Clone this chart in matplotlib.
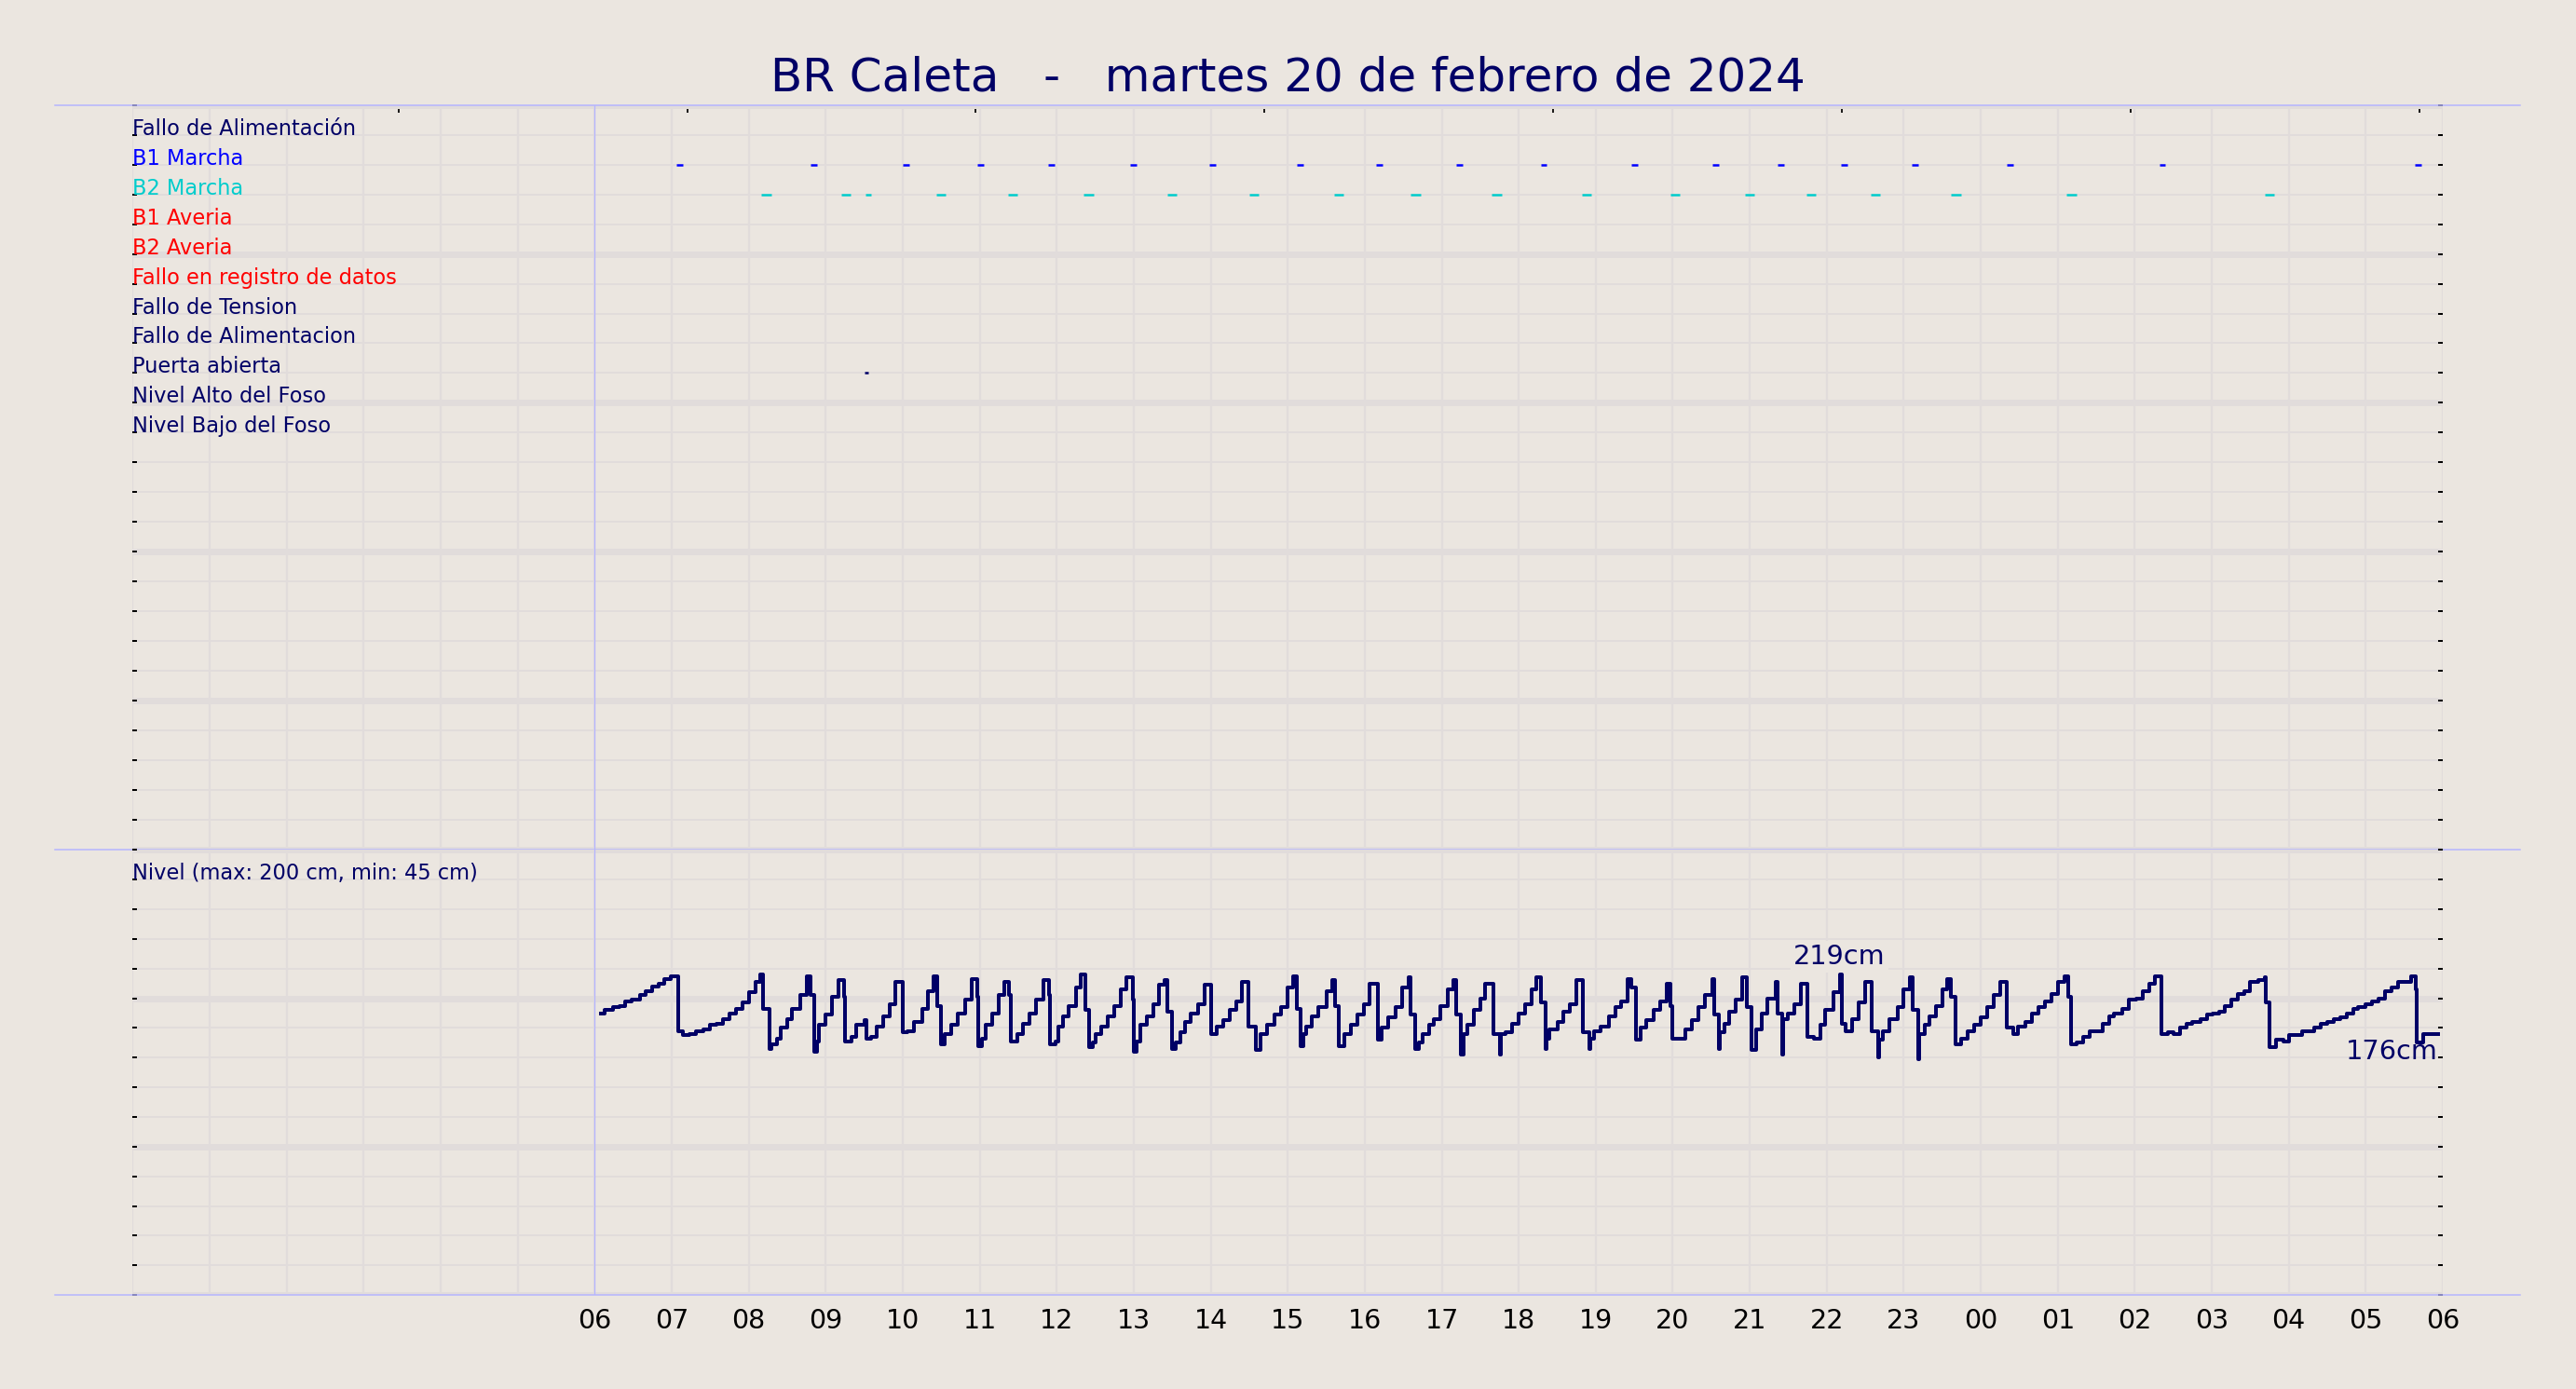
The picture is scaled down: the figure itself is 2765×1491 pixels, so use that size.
import matplotlib
matplotlib.use("Agg")
import matplotlib.pyplot as plt
from matplotlib.ticker import MultipleLocator, FixedLocator

# --- data ------------------------------------------------------------------

TITLE = "BR Caleta   -   martes 20 de febrero de 2024"

ROW_LABELS = ["Fallo de Alimentación", "B1 Marcha", "B2 Marcha", "B1 Averia",
              "B2 Averia", "Fallo en registro de datos", "Fallo de Tension",
              "Fallo de Alimentacion", "Puerta abierta", "Nivel Alto del Foso",
              "Nivel Bajo del Foso"]
ROW_COLORS = ["#000066", "#0000ff", "#00cccc", "#ff0000", "#ff0000", "#ff0000",
              "#000066", "#000066", "#000066", "#000066", "#000066"]

# pump runs / door events, minutes from 00:00 on the 20th
B1_START_MIN = [424, 528, 600, 658, 713, 777, 839, 907, 969, 1031, 1097, 1168,
                1231, 1282, 1331, 1386, 1460, 1579, 1778]
B1_DUR_MIN = [5] * 19
B2_START_MIN = [490, 552, 571, 626, 682, 741, 806, 870, 936, 996, 1059, 1129,
                1198, 1256, 1304, 1354, 1417, 1507, 1661]
B2_DUR_MIN = [7.5, 7.5, 4, 7.5, 7.5, 7.5, 7.5, 7.5, 7.5, 7.5, 7.5, 7.5,
              7.5, 7.5, 7.5, 7.5, 7.5, 7.5, 7.5]
DOOR_START_MIN = [570]
DOOR_DUR_MIN = [3]

# pit level, minutes after 06:00 and cm
LEVEL_MIN = [
    5, 8, 14, 19, 24, 29, 35, 40, 45, 50, 54, 59,
    65, 69, 74, 79, 85, 90, 95, 100, 105, 110, 115, 120, 125, 129, 131,
    136, 138, 142, 145, 150, 154, 160, 165, 168,
    171, 173, 175, 180, 185, 190, 194,
    195, 200, 204, 210, 212, 215, 220, 225, 230, 234,
    240, 244, 249, 255, 260, 264, 267,
    270, 273, 278, 283, 289, 294, 298,
    299, 302, 305, 310, 315, 319, 323,
    324, 329, 334, 339, 344, 350, 354,
    355, 359, 361, 365, 369, 375, 379, 382,
    385, 388, 390, 395, 400, 405, 410, 414, 419,
    420, 422, 425, 430, 435, 440, 444, 446,
    450, 453, 456, 460, 464, 470, 475,
    480, 485, 490, 495, 500, 504, 509,
    515, 519, 524, 530, 535, 540, 544, 547,
    550, 552, 554, 559, 564, 570, 575, 577,
    580, 584, 589, 594, 599, 604,
    610, 613, 618, 624, 629, 634, 636,
    639, 642, 645, 650, 654, 659, 665, 669, 671,
    675, 677, 680, 685, 690, 694, 700, 705, 706,
    710, 715, 720, 725, 730, 734, 737,
    741, 742, 744, 750, 755, 760, 765,
    770, 775, 776, 779, 784, 790, 795, 800, 805, 808,
    811, 815, 819, 825, 830, 835, 838,
    840, 850, 855, 860, 865, 871, 872,
    876, 877, 880, 884, 889, 894, 898,
    901, 905, 909, 914, 920, 922,
    925, 926, 930, 935, 940,
    945, 950, 955, 959, 965, 970, 972,
    975, 980, 985, 990, 995,
    1000, 1001, 1004, 1009, 1015, 1020, 1025, 1027,
    1031, 1032, 1036, 1040, 1045, 1050, 1054, 1057,
    1060, 1065, 1070, 1075, 1080, 1085, 1090, 1095,
    1100, 1105, 1109, 1115, 1120, 1125, 1130, 1135, 1140, 1145, 1148,
    1150, 1155, 1160, 1165, 1175, 1180, 1184, 1190, 1195, 1201, 1206, 1211, 1216,
    1221, 1226, 1230, 1235, 1240, 1245, 1251, 1256, 1261, 1266, 1270, 1275, 1280,
    1285, 1290, 1296, 1301, 1302,
    1305, 1310, 1316, 1320, 1330, 1340, 1345, 1350, 1355, 1360, 1365, 1370, 1374,
    1380, 1385, 1390, 1395, 1400, 1405, 1410, 1415, 1419,
    1420, 1425, 1436,
]
LEVEL_CM = [
    190, 192, 194, 195, 198, 199, 202, 205, 208, 210, 213, 215,
    178, 175, 176, 178, 179, 182, 183, 186, 190, 193, 197, 204, 211, 216, 193,
    166, 169, 173, 180, 186, 193, 202, 215, 202,
    164, 171, 182, 189, 201, 212, 201,
    171, 174, 182, 185, 173, 174, 181, 188, 196, 211,
    177, 178, 184, 193, 205, 215, 195,
    169, 176, 182, 190, 199, 213, 201,
    168, 173, 182, 190, 202, 211, 202,
    171, 176, 183, 190, 199, 212, 202,
    169, 171, 181, 188, 195, 207, 216, 192,
    167, 170, 176, 181, 188, 195, 206, 214, 199,
    164, 171, 182, 188, 196, 209, 212, 191,
    166, 170, 177, 184, 190, 196, 209,
    176, 181, 185, 192, 198, 211, 181,
    165, 176, 182, 189, 194, 207, 215, 193,
    168, 176, 181, 188, 194, 205, 212, 195,
    168, 176, 182, 189, 196, 210,
    172, 180, 187, 194, 207, 214, 189,
    166, 170, 176, 182, 186, 195, 206, 212, 189,
    162, 176, 182, 192, 200, 210, 176, 162, 176,
    177, 183, 190, 196, 206, 214, 197,
    166, 173, 179, 184, 191, 196, 212,
    177, 166, 173, 178, 181, 188, 194, 198, 213, 207,
    172, 180, 185, 192, 198, 210, 195,
    173, 179, 185, 194, 202, 213, 189,
    166, 177, 183, 191, 199, 214, 194,
    165, 179, 190, 200, 211, 190,
    162, 186, 190, 196, 210,
    174, 173, 182, 192, 204, 216, 183,
    178, 186, 197, 211, 178,
    160, 172, 178, 186, 194, 206, 214, 192,
    159, 176, 182, 188, 195, 206, 213, 201,
    169, 173, 178, 182, 187, 194, 202, 211,
    180, 176, 181, 184, 190, 194, 198, 203, 211, 215, 201,
    169, 170, 174, 178, 183, 188, 190, 193, 199, 200, 205, 210, 215,
    176, 177, 176, 180, 183, 184, 186, 189, 190, 191, 195, 199, 203,
    205, 211, 212, 214, 197,
    167, 172, 171, 175, 178, 180, 183, 184, 186, 187, 190, 193, 194,
    196, 198, 200, 205, 207, 211, 211, 215, 206,
    170, 176, 176,
]
assert len(LEVEL_MIN) == len(LEVEL_CM)

LEVEL_TEXT = "Nivel (max: 200 cm, min: 45 cm)"
PEAK_LABEL_CM = 219
PEAK_AT_MIN = 970
LAST_LABEL_CM = 176

HOURS_SHOWN = 30          # 00:00 of the 20th .. 06:00 of the 21st
FIRST_LABELED_HOUR = 6
TOP_TICK_H = [3.45, 7.20, 10.95, 14.70, 18.45, 22.20, 25.95, 29.70]

# --- style --------------------------------------------------------------------

BG = "#ebe6e0"
GRID = "#e1dcdb"
FRAME_BLUE = "#b4b4ff"
NAVY = "#000066"
B1_COLOR = "#0000ff"
B2_COLOR = "#00cccc"
LABEL_FS = 9.0

DPI = 180
fig = plt.figure(figsize=(2765 / DPI, 1491 / DPI), dpi=DPI, facecolor=BG)

left, right = 0.0515, 0.9483
y_bot, y_mid, y_top = 0.0677, 0.3881, 0.9245
ax_top = fig.add_axes([left, y_mid, right - left, y_top - y_mid])
ax_bot = fig.add_axes([left, y_bot, right - left, y_mid - y_bot])

for ax, minor, major in ((ax_top, 1, 5), (ax_bot, 20, 100)):
    ax.set_facecolor(BG)
    ax.set_xlim(0, HOURS_SHOWN)
    ax.xaxis.set_major_locator(MultipleLocator(1))
    ax.yaxis.set_minor_locator(MultipleLocator(minor))
    ax.yaxis.set_major_locator(MultipleLocator(major))
    ax.grid(which="major", axis="x", color=GRID, lw=0.9)
    ax.grid(which="minor", axis="y", color=GRID, lw=0.8)
    ax.grid(which="major", axis="y", color=GRID, lw=2.8)
    ax.set_axisbelow(True)
    for s in ax.spines.values():
        s.set_visible(False)
    ax.tick_params(axis="y", which="both", direction="in", left=True,
                   right=True, labelleft=False, length=2, width=0.8,
                   color="black")
    ax.tick_params(axis="x", length=0)
    ax.axvline(FIRST_LABELED_HOUR, color=FRAME_BLUE, lw=0.5)

ax_top.set_ylim(0, 25)
ax_bot.set_ylim(0, 300)
ax_top.tick_params(axis="x", labelbottom=False)

# frame lines running past the axes
for ax, yv in ((ax_top, 25), (ax_top, 0), (ax_bot, 0)):
    ax.axhline(yv, xmin=-0.0335, xmax=1.0335, color=FRAME_BLUE, lw=0.6,
               clip_on=False, zorder=3)

# hour labels
hours = list(range(HOURS_SHOWN + 1))
ax_bot.set_xticks(hours)
ax_bot.set_xticklabels(["" if h < FIRST_LABELED_HOUR else f"{h % 24:02d}"
                        for h in hours], fontsize=11.4, color="black")
ax_bot.tick_params(axis="x", pad=5.5)

# small marks along the top
sec = ax_top.secondary_xaxis("top")
sec.xaxis.set_major_locator(FixedLocator(TOP_TICK_H))
sec.tick_params(direction="in", length=3.2, width=0.7, color="black",
                labeltop=False)
for s in sec.spines.values():
    s.set_visible(False)

# row labels
for i, (label, col) in enumerate(zip(ROW_LABELS, ROW_COLORS)):
    ax_top.text(0, 24 - i, label, color=col, fontsize=LABEL_FS, ha="left",
                va="baseline")


def draw_events(starts, durs, row, color):
    x0 = [s / 60 for s in starts]
    x1 = [(s + d) / 60 for s, d in zip(starts, durs)]
    ax_top.hlines([row] * len(x0), x0, x1, colors=color, lw=1.0,
                  capstyle="butt", zorder=4)


draw_events(B1_START_MIN, B1_DUR_MIN, 23, B1_COLOR)
draw_events(B2_START_MIN, B2_DUR_MIN, 22, B2_COLOR)
draw_events(DOOR_START_MIN, DOOR_DUR_MIN, 16, NAVY)

# level
lx = [FIRST_LABELED_HOUR + m / 60 for m in LEVEL_MIN]
ax_bot.plot(lx, LEVEL_CM, drawstyle="steps-post", color=NAVY, lw=1.6,
            zorder=4)
ax_bot.text(0, 280, LEVEL_TEXT, color=NAVY, fontsize=LABEL_FS, ha="left",
            va="baseline")

ip = LEVEL_MIN.index(PEAK_AT_MIN)
ax_bot.annotate(f"{PEAK_LABEL_CM}cm", xy=(lx[ip], LEVEL_CM[ip]),
                xytext=(0, 2), textcoords="offset points", ha="center",
                va="bottom", fontsize=11.5, color=NAVY, zorder=5,
                bbox=dict(boxstyle="square,pad=0.1", fc=BG, ec="none"))
ax_bot.annotate(f"{LAST_LABEL_CM}cm", xy=(lx[-1], LEVEL_CM[-1]),
                xytext=(0, -2), textcoords="offset points", ha="right",
                va="top", fontsize=11.5, color=NAVY, zorder=5)

fig.text(0.5, 1 - 97.7 / 1491, TITLE, color=NAVY, fontsize=20,
         ha="center", va="baseline")

fig.savefig("out.png", dpi=DPI, facecolor=BG)
